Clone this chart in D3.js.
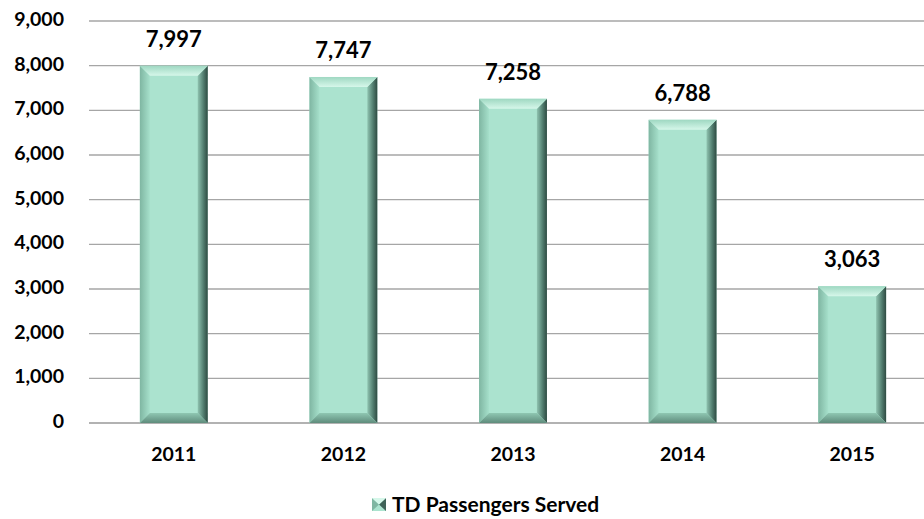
<!DOCTYPE html>
<html>
<head>
<meta charset="utf-8">
<style>
  body { margin: 0; background: #fff; }
  text { font-family: Lato, "Open Sans", sans-serif; font-weight: bold; fill: #000; }
</style>
</head>
<body>
<script src="https://cdn.jsdelivr.net/npm/d3@7"></script>
<script>

var years = ["2011", "2012", "2013", "2014", "2015"];
var passengers = [7997, 7747, 7258, 6788, 3063];
var yTicks = [0, 1000, 2000, 3000, 4000, 5000, 6000, 7000, 8000, 9000];
var seriesName = "TD Passengers Served";

var width = 924, height = 519;

var svg = d3.select("body").append("svg")
    .attr("width", width)
    .attr("height", height);

var x = d3.scaleBand()
    .domain(years)
    .range([89, 937])
    .paddingInner(0.6)
    .paddingOuter(0.3);

var y = d3.scaleLinear()
    .domain([0, 9000])
    .range([423, 21]);

var fmt = d3.format(",");

// gradients for the bevelled bars
var defs = svg.append("defs");
function grad(id, x2, y2, stops) {
  var g = defs.append("linearGradient").attr("id", id)
      .attr("x1", 0).attr("y1", 0).attr("x2", x2).attr("y2", y2);
  stops.forEach(s => g.append("stop").attr("offset", s[0]).attr("stop-color", s[1]));
}
grad("gTop", 0, 1, [[0, "#9fd8c2"], [1, "#d6f7ea"]]);
grad("gBot", 0, 1, [[0, "#8fc7b2"], [1, "#5f8c7c"]]);
grad("gLeft", 1, 0, [[0, "#7fb6a2"], [1, "#a6e0cb"]]);
grad("gRight", 1, 0, [[0, "#8fc3b0"], [0.6, "#4f7a6c"], [1, "#2f4a42"]]);

// gridlines
svg.append("g")
  .selectAll("line")
  .data(yTicks)
  .join("line")
    .attr("x1", 89).attr("x2", width)
    .attr("y1", d => y(d)).attr("y2", d => y(d))
    .attr("stroke", d => d === 0 ? "#999" : "#a6a6a6")
    .attr("stroke-width", 1.3);

// y axis labels
svg.append("g")
  .selectAll("text")
  .data(yTicks)
  .join("text")
    .attr("x", 64)
    .attr("y", d => y(d) + 5)
    .attr("text-anchor", "end")
    .attr("font-size", 19.5)
    .text(d => fmt(d));

// bars
var b = 10; // bevel size
var bars = svg.append("g").selectAll("g")
  .data(years.map((yr, i) => ({year: yr, value: passengers[i]})))
  .join("g");

bars.each(function(d) {
  var g = d3.select(this);
  var x0 = x(d.year), x1 = x0 + x.bandwidth();
  var y0 = y(d.value), y1 = y(0);
  g.append("rect")
    .attr("x", x0).attr("y", y0)
    .attr("width", x1 - x0).attr("height", y1 - y0)
    .attr("fill", "#abe3cf");
  g.append("polygon").attr("fill", "url(#gLeft)")
    .attr("points", [[x0, y0], [x0 + b, y0 + b], [x0 + b, y1 - b], [x0, y1]].join(" "));
  g.append("polygon").attr("fill", "url(#gRight)")
    .attr("points", [[x1, y0], [x1 - b, y0 + b], [x1 - b, y1 - b], [x1, y1]].join(" "));
  g.append("polygon").attr("fill", "url(#gTop)")
    .attr("points", [[x0, y0], [x1, y0], [x1 - b, y0 + b], [x0 + b, y0 + b]].join(" "));
  g.append("polygon").attr("fill", "url(#gBot)")
    .attr("points", [[x0 + b, y1 - b], [x1 - b, y1 - b], [x1, y1], [x0, y1]].join(" "));
});

// value labels
bars.append("text")
  .attr("x", d => x(d.year) + x.bandwidth() / 2)
  .attr("y", d => y(d.value) - 19)
  .attr("text-anchor", "middle")
  .attr("font-size", 22)
  .text(d => fmt(d.value));

// x axis labels
svg.append("g")
  .selectAll("text")
  .data(years)
  .join("text")
    .attr("x", d => x(d) + x.bandwidth() / 2)
    .attr("y", 461)
    .attr("text-anchor", "middle")
    .attr("font-size", 19.5)
    .text(d => d);

// legend
var lg = svg.append("g").attr("transform", "translate(372,498)");
lg.append("rect").attr("width", 14).attr("height", 13).attr("fill", "#abe3cf");
lg.append("polygon").attr("points", "0,0 7,6.5 0,13").attr("fill", "#7fb6a2");
lg.append("polygon").attr("points", "14,0 7,6.5 14,13").attr("fill", "#3f6258");
lg.append("polygon").attr("points", "0,0 14,0 7,6.5").attr("fill", "#d6f7ea");
lg.append("text")
  .attr("x", 20)
  .attr("y", 14)
  .attr("font-size", 21)
  .text(seriesName);

</script>
</body>
</html>
